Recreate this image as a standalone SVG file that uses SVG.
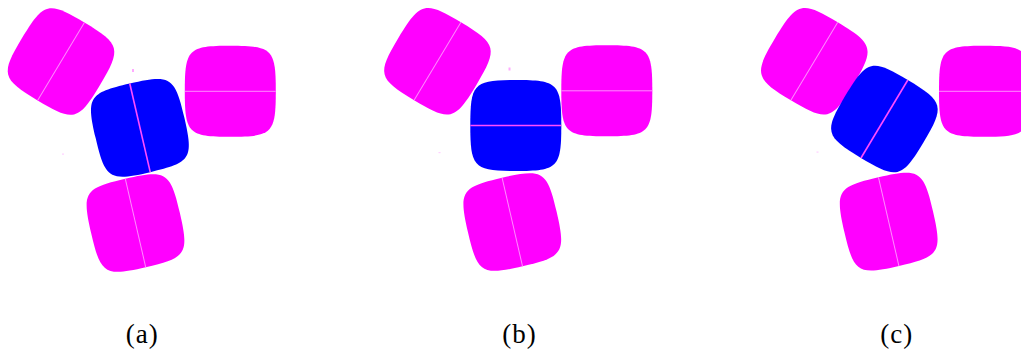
<svg xmlns="http://www.w3.org/2000/svg" xmlns:xlink="http://www.w3.org/1999/xlink" width="1021" height="354" viewBox="0 0 1021 354">
  <defs>
    <path id="sq" d="M0,-45.5 C42,-45.5 45.5,-42 45.5,0 C45.5,42 42,45.5 0,45.5 C-42,45.5 -45.5,42 -45.5,0 C-45.5,-42 -42,-45.5 0,-45.5 Z"/>
  </defs>
  <style>
    .mag { fill: #ff00ff; }
    .blu { fill: #0000ff; }
    .lm { stroke: #ff8cff; stroke-width: 1; fill: none; }
    .lb { stroke: #ff4cff; stroke-width: 1.6; fill: none; }
    .dot { fill: #ffaaff; }
    .dot2 { fill: #ffd0ff; }
    .lbl { font-family: "Liberation Serif", "DejaVu Serif", serif; font-size: 27px; letter-spacing: 1px; fill: #000; text-anchor: middle; }
  </style>

  <!-- Panel (a) -->
  <g id="panel-a">
    <g id="a-topleft" transform="translate(61,61.5) rotate(31)">
      <use href="#sq" class="mag"/>
      <line class="lm" x1="0" y1="-45.5" x2="0" y2="45.5"/>
    </g>
    <g id="a-right" transform="translate(230.3,91.3)">
      <use href="#sq" class="mag"/>
      <line class="lm" x1="-45.5" y1="0" x2="45.5" y2="0"/>
    </g>
    <g id="a-bottom" transform="translate(135.5,223) rotate(-13)">
      <use href="#sq" class="mag"/>
      <line class="lm" x1="0" y1="-45.5" x2="0" y2="45.5"/>
    </g>
    <g id="a-center" transform="translate(140,127.8) rotate(-13)">
      <use href="#sq" class="blu"/>
      <line class="lb" x1="0" y1="-45.5" x2="0" y2="45.5"/>
    </g>
    <rect class="dot" x="132" y="69" width="2" height="3"/>
    <rect class="dot2" x="62" y="153.5" width="2" height="1.2"/>
    <text class="lbl" x="142.2" y="343">(a)</text>
  </g>

  <!-- Panel (b) -->
  <g id="panel-b">
    <g id="b-topleft" transform="translate(437.5,61.3) rotate(31)">
      <use href="#sq" class="mag"/>
      <line class="lm" x1="0" y1="-45.5" x2="0" y2="45.5"/>
    </g>
    <g id="b-right" transform="translate(606.8,90.8)">
      <use href="#sq" class="mag"/>
      <line class="lm" x1="-45.5" y1="0" x2="45.5" y2="0"/>
    </g>
    <g id="b-bottom" transform="translate(512.3,222) rotate(-13)">
      <use href="#sq" class="mag"/>
      <line class="lm" x1="0" y1="-45.5" x2="0" y2="45.5"/>
    </g>
    <g id="b-center" transform="translate(515.8,125.5)">
      <use href="#sq" class="blu"/>
      <line class="lb" x1="-45.5" y1="0" x2="45.5" y2="0"/>
    </g>
    <rect class="dot" x="508.5" y="67.5" width="2" height="3"/>
    <rect class="dot2" x="438.5" y="152" width="2" height="1.2"/>
    <text class="lbl" x="519.5" y="343">(b)</text>
  </g>

  <!-- Panel (c) -->
  <g id="panel-c">
    <g id="c-topleft" transform="translate(814.3,61.3) rotate(31)">
      <use href="#sq" class="mag"/>
      <line class="lm" x1="0" y1="-45.5" x2="0" y2="45.5"/>
    </g>
    <g id="c-right" transform="translate(984.5,91.3)">
      <use href="#sq" class="mag"/>
      <line class="lm" x1="-45.5" y1="0" x2="45.5" y2="0"/>
    </g>
    <g id="c-bottom" transform="translate(888.7,221.7) rotate(-13)">
      <use href="#sq" class="mag"/>
      <line class="lm" x1="0" y1="-45.5" x2="0" y2="45.5"/>
    </g>
    <g id="c-center" transform="translate(884.4,119) rotate(31)">
      <use href="#sq" class="blu"/>
      <line class="lb" x1="0" y1="-45.5" x2="0" y2="45.5"/>
    </g>
    <rect class="dot2" x="816.5" y="151.5" width="2" height="1.2"/>
    <text class="lbl" x="896.8" y="343">(c)</text>
  </g>

  <g id="connectors"/>
</svg>
